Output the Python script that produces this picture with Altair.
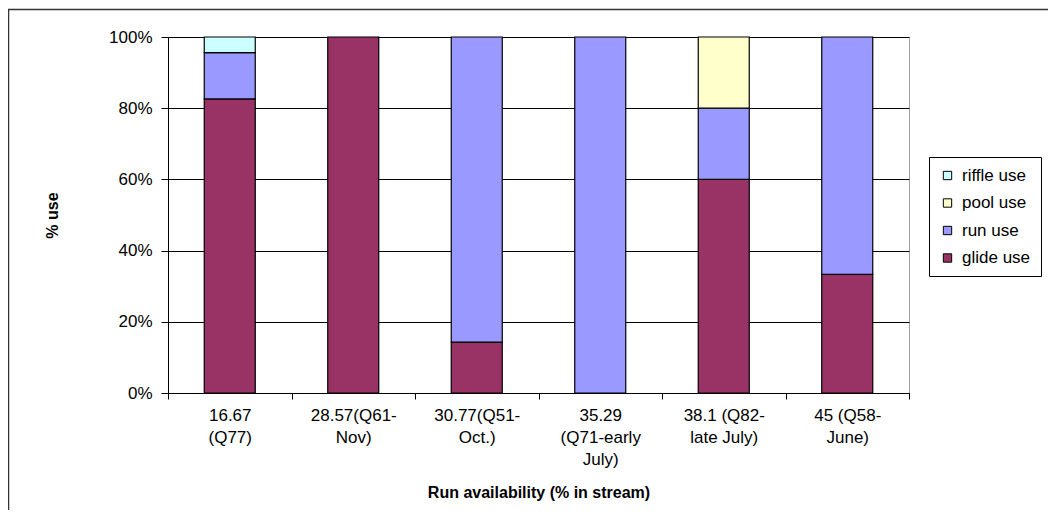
import altair as alt
import pandas as pd

categories = ["16.67|(Q77)", "28.57(Q61-|Nov)", "30.77(Q51-|Oct.)",
              "35.29|(Q71-early|July)", "38.1 (Q82-|late July)", "45 (Q58-|June)"]
series = ["riffle use", "pool use", "run use", "glide use"]
glide = [82.6, 100.0, 14.3, 0.0, 60.0, 33.3]
run = [13.0, 0.0, 85.7, 100.0, 20.0, 66.7]
pool = [0.0, 0.0, 0.0, 0.0, 20.0, 0.0]
riffle = [4.4, 0.0, 0.0, 0.0, 0.0, 0.0]
colors = ["#CCFFFF", "#FFFFCC", "#9999FF", "#993366"]

rows = []
for name, vals in [("glide use", glide), ("run use", run), ("pool use", pool), ("riffle use", riffle)]:
    for c, v in zip(categories, vals):
        rows.append({"cat": c, "series": name, "value": v, "order": series.index(name)})
df = pd.DataFrame(rows)

FONT = "Liberation Sans"

bars = alt.Chart(df).transform_filter("datum.value > 0").mark_bar(
    size=51, stroke="black", strokeWidth=1.2
).encode(
    x=alt.X("cat:N", sort=categories, scale=alt.Scale(paddingInner=0, paddingOuter=0),
            axis=alt.Axis(title="Run availability (% in stream)", labelAngle=0,
                          labelExpr="split(datum.label, '|')", tickBand="extent",
                          labelLineHeight=22, labelPadding=8, tickSize=6,
                          titlePadding=17, domainColor="black", tickColor="black",
                          grid=False)),
    y=alt.Y("value:Q", stack="normalize", scale=alt.Scale(domain=[0, 1]),
            axis=alt.Axis(title="% use", format=".0%", values=[0, 0.2, 0.4, 0.6, 0.8, 1.0],
                          tickSize=7, labelPadding=9, titlePadding=48,
                          gridColor="black", domainColor="black", tickColor="black")),
    color=alt.Color("series:N", sort=series,
                    scale=alt.Scale(domain=series, range=colors),
                    legend=alt.Legend(title=None, orient="none", legendX=761, legendY=120,
                                      symbolType="square", symbolSize=70,
                                      symbolStrokeColor="black", symbolStrokeWidth=1,
                                      symbolOpacity=1, labelFontSize=17, labelFont=FONT,
                                      rowPadding=9.5, padding=10, strokeColor="black",
                                      fillColor="white", labelOffset=6)),
    order=alt.Order("order:Q", sort="descending"),
)

frame_v = alt.Chart(alt.Data(values=[{"k": 1}])).mark_rule(color="#333333", strokeWidth=1.5).encode(
    x=alt.value(-159.5), y=alt.value(-28), y2=alt.value(500))
frame_h = alt.Chart(alt.Data(values=[{"k": 1}])).mark_rule(color="#333333", strokeWidth=1.5).encode(
    x=alt.value(-160), x2=alt.value(900), y=alt.value(-27.5))

chart = alt.layer(bars, frame_v, frame_h).properties(
    width=741, height=356,
    autosize=alt.AutoSizeParams(type="none"),
    padding={"left": 160, "top": 29, "right": 139, "bottom": 117},
).configure_view(stroke="#A0A0A0", strokeWidth=1).configure_axis(
    labelFont=FONT, titleFont=FONT, labelFontSize=17, titleFontSize=16,
    titleFontWeight="bold", labelColor="black", titleColor="black",
)

chart.save("out.html", embed_options={"renderer": "svg", "actions": False})
